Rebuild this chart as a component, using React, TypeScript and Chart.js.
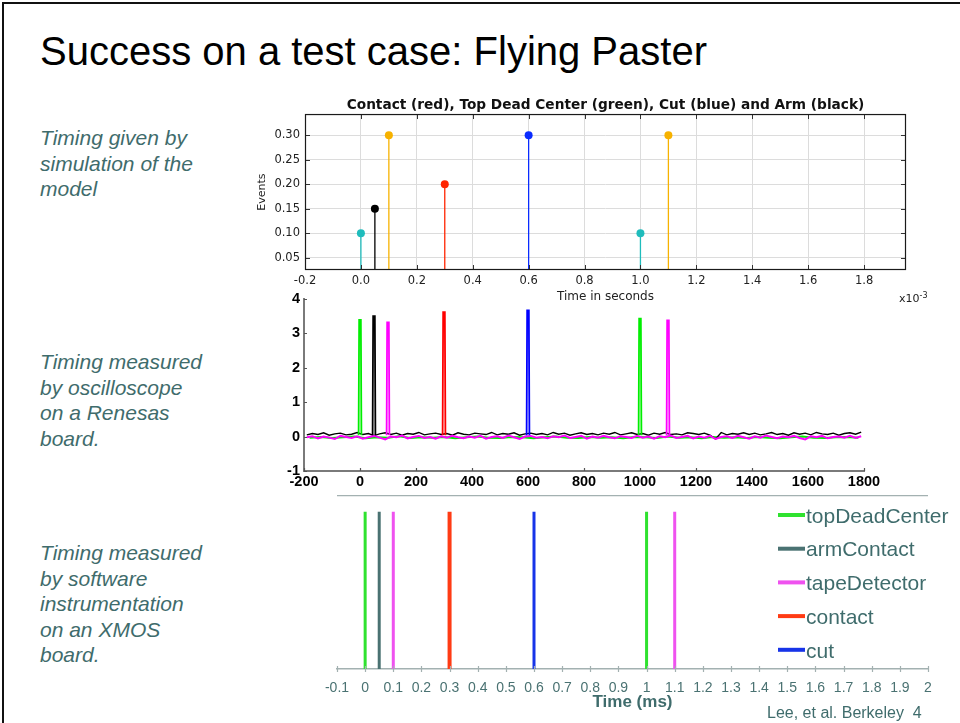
import React, { useEffect, useRef } from "react";
import { Chart, registerables } from "chart.js";
Chart.register(...registerables);

const TEAL = "#3f6c6c";
const SANS = "'Liberation Sans', Arial, sans-serif";
const DEJAVU = "'DejaVu Sans', sans-serif";

// ---------------- Top chart: simulation (time in units of 1e-3 s) ----------------
const SIM_TIMES = [0.0, 0.05, 0.1, 0.3, 0.6, 1.0, 1.1];
const SIM_EVENTS = [0.10, 0.15, 0.30, 0.20, 0.30, 0.10, 0.30];
const SIM_COLORS = ["#1fbcbc", "#000000", "#f7b200", "#ff2400", "#0a2cff", "#1fbcbc", "#f7b200"];
const SIM_X_TICKS = [-0.2, 0.0, 0.2, 0.4, 0.6, 0.8, 1.0, 1.2, 1.4, 1.6, 1.8];
const SIM_Y_TICKS = [0.05, 0.10, 0.15, 0.20, 0.25, 0.30];
const SIM_X_RANGE = [-0.2, 1.95];
const SIM_Y_RANGE = [0.025, 0.343];
const SIM_TITLE = "Contact (red), Top Dead Center (green), Cut (blue) and Arm (black)";

// ---------------- Middle chart: oscilloscope (time in µs) ----------------
const SCOPE_SPIKE_TIMES = [0, 50, 100, 300, 600, 1000, 1100];
const SCOPE_SPIKE_PEAKS = [3.39, 3.50, 3.32, 3.62, 3.67, 3.43, 3.38];
const SCOPE_SPIKE_COLORS = ["#00ee00", "#000000", "#ff00ff", "#ff0000", "#0000ff", "#00ee00", "#ff00ff"];
const SCOPE_SPIKE_BASE = 0.04;
const SCOPE_X_TICKS = [-200, 0, 200, 400, 600, 800, 1000, 1200, 1400, 1600, 1800];
const SCOPE_Y_TICKS = [-1, 0, 1, 2, 3, 4];
const SCOPE_NOISE_T = Array.from({ length: 100 }, (_, i) => -190 + 20 * i);
const SCOPE_GREEN_T = Array.from({ length: 50 }, (_, i) => -180 + 40 * i);
const SCOPE_BLACK_NOISE = [
  0.05, 0.09, 0.06, 0.11, 0.04, 0.08, 0.10, 0.05, 0.07, 0.12,
  0.06, 0.09, 0.03, 0.08, 0.11, 0.06, 0.10, 0.04, 0.09, 0.07,
  0.12, 0.05, 0.08, 0.10, 0.06, 0.09, 0.04, 0.11, 0.07, 0.05,
  0.10, 0.08, 0.06, 0.12, 0.05, 0.09, 0.07, 0.11, 0.04, 0.08,
  0.10, 0.06, 0.09, 0.05, 0.12, 0.07, 0.10, 0.04, 0.08, 0.11,
  0.06, 0.09, 0.05, 0.10, 0.07, 0.12, 0.05, 0.08, 0.11, 0.06,
  0.09, 0.04, 0.10, 0.07, 0.12, 0.06, 0.08, 0.05, 0.11, 0.09,
  0.06, 0.10, 0.04, -0.07, 0.12, 0.05, 0.09, 0.07, 0.11, 0.06,
  0.10, 0.05, 0.08, 0.12, 0.06, 0.09, 0.04, 0.11, 0.07, 0.10,
  0.05, 0.12, 0.08, 0.06, 0.10, 0.04, 0.09, 0.11, 0.07, 0.13,
];
const SCOPE_MAGENTA_NOISE = [
  -0.02, 0.01, -0.05, 0.00, -0.03, -0.07, 0.02, -0.01, -0.04, 0.01,
  -0.06, -0.02, 0.02, -0.03, -0.08, 0.00, -0.02, 0.03, -0.05, -0.01,
  0.02, -0.04, -0.01, -0.06, 0.01, -0.03, 0.02, -0.02, -0.05, 0.00,
  -0.03, 0.02, -0.06, -0.01, 0.01, -0.04, 0.03, -0.02, -0.07, 0.00,
  0.02, -0.03, -0.01, -0.05, 0.01, -0.02, 0.03, -0.04, -0.01, 0.02,
  -0.06, 0.00, -0.03, 0.02, -0.02, -0.05, 0.01, -0.01, -0.04, 0.02,
  -0.03, 0.00, -0.06, 0.01, -0.02, 0.03, -0.04, -0.01, 0.02, -0.05,
  0.00, -0.03, 0.02, -0.07, -0.01, 0.01, -0.04, 0.02, -0.02, -0.06,
  0.01, -0.03, 0.03, -0.01, -0.05, 0.00, -0.02, 0.02, -0.04, -0.08,
  0.01, -0.02, 0.02, -0.05, -0.01, 0.00, -0.03, 0.02, -0.04, 0.01,
];
const SCOPE_GREEN_NOISE = [
  -0.03, -0.01, -0.04, -0.02, 0.00, -0.05, -0.02, -0.03, 0.01, -0.04,
  -0.02, -0.03, -0.01, -0.05, -0.02, 0.00, -0.03, -0.04, -0.01, -0.02,
  -0.05, -0.02, 0.00, -0.03, -0.04, -0.01, -0.03, -0.02, -0.05, -0.01,
  -0.02, -0.04, 0.00, -0.03, -0.02, -0.05, -0.01, -0.03, -0.02, -0.04,
  -0.01, -0.03, -0.05, -0.02, 0.00, -0.03, -0.04, -0.02, -0.01, -0.03,
];

// ---------------- Bottom chart: software instrumentation (time in ms) ----------------
const SW_EVENTS = ["topDeadCenter", "armContact", "tapeDetector", "contact", "cut"];
const SW_TIMES = [[0, 1.0], [0.05], [0.1, 1.1], [0.3], [0.6]];
const SW_COLORS = ["#2fe22f", "#4a7272", "#ef52ef", "#ff3b14", "#1734e8"];
const SW_WIDTHS = [3, 3, 3, 4, 3];
const SW_X_TICKS = [-0.1, 0, 0.1, 0.2, 0.3, 0.4, 0.5, 0.6, 0.7, 0.8, 0.9, 1, 1.1, 1.2, 1.3, 1.4, 1.5, 1.6, 1.7, 1.8, 1.9, 2];

// ---------------- plugins ----------------
const innerTicks = {
  id: "innerTicks",
  afterDatasetsDraw(chart: any, _args: any, opts: any) {
    const { ctx, chartArea: a } = chart;
    ctx.save();
    for (const m of opts.marks || []) {
      const scale = chart.scales[m.scale];
      ctx.strokeStyle = m.color;
      ctx.lineWidth = m.width;
      ctx.beginPath();
      for (const t of scale.ticks) {
        const p = Math.round(scale.getPixelForValue(t.value)) + 0.5;
        const out = m.out || 0;
        if (m.edge === "bottom") { ctx.moveTo(p, a.bottom + out); ctx.lineTo(p, a.bottom - m.len); }
        if (m.edge === "top") { ctx.moveTo(p, a.top); ctx.lineTo(p, a.top + m.len); }
        if (m.edge === "left") { ctx.moveTo(a.left, p); ctx.lineTo(a.left + m.len, p); }
        if (m.edge === "right") { ctx.moveTo(a.right, p); ctx.lineTo(a.right - m.len, p); }
      }
      ctx.stroke();
    }
    if (opts.frame) {
      ctx.strokeStyle = opts.frame.color;
      ctx.lineWidth = opts.frame.width;
      ctx.strokeRect(a.left + 0.5, a.top + 0.5, a.right - a.left - 1, a.bottom - a.top - 1);
    }
    ctx.restore();
  },
};

const lineLegend = {
  id: "lineLegend",
  afterDraw(chart: any, _args: any, o: any) {
    const ctx = chart.ctx;
    ctx.save();
    ctx.font = `${o.size}px ${o.family}`;
    ctx.textBaseline = "middle";
    ctx.textAlign = "left";
    chart.data.datasets.forEach((ds: any, i: number) => {
      const y = o.y + i * o.dy;
      ctx.strokeStyle = ds.borderColor;
      ctx.lineWidth = o.lineWidth;
      ctx.beginPath();
      ctx.moveTo(o.x, y);
      ctx.lineTo(o.x + o.len, y);
      ctx.stroke();
      ctx.fillStyle = o.color;
      ctx.fillText(ds.label, o.x + o.len + o.gap, y + o.textDy);
    });
    ctx.restore();
  },
};

const fixTicks = (values: number[]) => (scale: any) => {
  scale.ticks = values.map((v) => ({ value: v }));
};

// ---------------- configs ----------------
function simConfig(): any {
  return {
    type: "line",
    data: {
      datasets: SIM_TIMES.map((t, i) => ({
        data: [{ x: t, y: 0 }, { x: t, y: SIM_EVENTS[i] }],
        borderColor: SIM_COLORS[i],
        backgroundColor: SIM_COLORS[i],
        borderWidth: 1.3,
        pointRadius: (c: any) => (c.dataIndex === 1 ? 4 : 0),
        pointBorderWidth: 0,
        pointHoverRadius: 0,
      })),
    },
    options: {
      animation: false,
      responsive: false,
      events: [],
      layout: { padding: { left: 0, top: 0, right: 44, bottom: 0 } },
      plugins: {
        legend: { display: false },
        tooltip: { enabled: false },
        title: {
          display: true,
          text: SIM_TITLE,
          fullSize: false,
          color: "#111",
          font: { family: DEJAVU, size: 13.7, weight: "bold" },
          padding: { top: 7, bottom: 0.6 },
        },
        innerTicks: {
          marks: [
            { scale: "x", edge: "bottom", len: 5, color: "#333", width: 1 },
            { scale: "x", edge: "top", len: 5, color: "#333", width: 1 },
            { scale: "y", edge: "left", len: 5, color: "#333", width: 1 },
            { scale: "y", edge: "right", len: 5, color: "#333", width: 1 },
          ],
          frame: { color: "#1a1a1a", width: 1.2 },
        },
      },
      scales: {
        x: {
          type: "linear",
          min: SIM_X_RANGE[0],
          max: SIM_X_RANGE[1],
          afterBuildTicks: fixTicks(SIM_X_TICKS),
          afterFit: (s: any) => { s.height = 40; },
          grid: { color: "#dcdcdc", lineWidth: 1, drawTicks: false },
          border: { display: false },
          ticks: {
            autoSkip: false, maxRotation: 0, minRotation: 0, padding: 4,
            color: "#222", font: { family: DEJAVU, size: 11.5 },
            callback: (v: any) => Number(v).toFixed(1),
          },
          title: {
            display: true, text: "Time in seconds", color: "#222",
            font: { family: DEJAVU, size: 12 }, padding: { top: 0, bottom: 5.8 },
          },
        },
        y: {
          type: "linear",
          min: SIM_Y_RANGE[0],
          max: SIM_Y_RANGE[1],
          afterBuildTicks: fixTicks(SIM_Y_TICKS),
          afterFit: (s: any) => { s.width = 55; },
          grid: { color: "#dcdcdc", lineWidth: 1, drawTicks: false },
          border: { display: false },
          ticks: {
            autoSkip: false, padding: 5, color: "#222",
            font: { family: DEJAVU, size: 11.5 },
            callback: (v: any) => Number(v).toFixed(2),
          },
          title: {
            display: true, text: "Events", color: "#222",
            font: { family: DEJAVU, size: 11 }, padding: { top: 5.4, bottom: 0 },
          },
        },
      },
    },
    plugins: [innerTicks],
  };
}

function pulse(t: number, peak: number) {
  return [
    { x: t - 5, y: SCOPE_SPIKE_BASE },
    { x: t - 3, y: peak },
    { x: t + 3, y: peak },
    { x: t + 5, y: SCOPE_SPIKE_BASE },
  ];
}

function scopeConfig(): any {
  const spikes = SCOPE_SPIKE_TIMES.map((t, i) => ({
    data: pulse(t, SCOPE_SPIKE_PEAKS[i]),
    borderColor: SCOPE_SPIKE_COLORS[i],
    borderWidth: 1.8,
    pointRadius: 0,
  }));
  const trace = (ts: number[], ys: number[], color: string, w: number) => ({
    data: ts.map((t, i) => ({ x: t, y: ys[i] })),
    borderColor: color,
    borderWidth: w,
    pointRadius: 0,
  });
  return {
    type: "line",
    data: {
      datasets: [
        ...spikes,
        trace(SCOPE_NOISE_T, SCOPE_MAGENTA_NOISE, "#ff00ff", 2),
        trace(SCOPE_NOISE_T, SCOPE_BLACK_NOISE, "#000000", 1.4),
        trace(SCOPE_GREEN_T, SCOPE_GREEN_NOISE, "#00ee00", 2),
      ],
    },
    options: {
      animation: false,
      responsive: false,
      events: [],
      layout: { padding: { left: 0, top: 14, right: 36, bottom: 0 } },
      plugins: {
        legend: { display: false },
        tooltip: { enabled: false },
        innerTicks: {
          marks: [
            { scale: "x", edge: "bottom", len: 3, color: "#555", width: 1.2 },
            { scale: "y", edge: "left", len: 3, color: "#555", width: 1.2 },
          ],
        },
      },
      scales: {
        x: {
          type: "linear",
          min: -200,
          max: 1800,
          afterBuildTicks: fixTicks(SCOPE_X_TICKS),
          afterFit: (s: any) => { s.height = 29; },
          grid: { display: true, drawOnChartArea: false, drawTicks: false },
          border: { display: true, color: "#7a7a7a", width: 2 },
          ticks: {
            autoSkip: false, maxRotation: 0, minRotation: 0, padding: 2,
            color: "#000", font: { family: SANS, size: 14.5, weight: "bold" },
            callback: (v: any) => String(v),
          },
        },
        y: {
          type: "linear",
          min: -1,
          max: 4,
          afterBuildTicks: fixTicks(SCOPE_Y_TICKS),
          afterFit: (s: any) => { s.width = 54; },
          grid: { display: true, drawOnChartArea: false, drawTicks: false },
          border: { display: true, color: "#7a7a7a", width: 2 },
          ticks: {
            autoSkip: false, padding: 4, color: "#000",
            font: { family: SANS, size: 14.5, weight: "bold" },
            callback: (v: any) => String(v),
          },
        },
      },
    },
    plugins: [innerTicks],
  };
}

function swConfig(): any {
  return {
    type: "line",
    data: {
      datasets: SW_EVENTS.map((name, i) => ({
        label: name,
        data: SW_TIMES[i].flatMap((t) => [{ x: t, y: 0 }, { x: t, y: 1 }, { x: t, y: null }]),
        borderColor: SW_COLORS[i],
        borderWidth: SW_WIDTHS[i],
        pointRadius: 0,
        spanGaps: false,
      })),
    },
    options: {
      animation: false,
      responsive: false,
      events: [],
      layout: { padding: { left: 0, top: 6, right: 32, bottom: 0 } },
      plugins: {
        legend: { display: false },
        tooltip: { enabled: false },
        innerTicks: {
          marks: [{ scale: "x", edge: "bottom", len: 3, out: 3, color: "#a3b1b1", width: 1.2 }],
        },
        lineLegend: {
          x: 478, y: 25, dy: 33.7, len: 27, gap: 1, textDy: 2,
          lineWidth: 4, size: 21, family: SANS, color: TEAL,
        },
      },
      scales: {
        x: {
          type: "linear",
          min: -0.1,
          max: 2,
          afterBuildTicks: fixTicks(SW_X_TICKS),
          afterFit: (s: any) => { s.height = 54; },
          grid: { display: true, drawOnChartArea: false, drawTicks: false },
          border: { display: true, color: "#a3b1b1", width: 1.5 },
          ticks: {
            autoSkip: false, maxRotation: 0, minRotation: 0, padding: 10.6,
            color: "#4a7272", font: { family: SANS, size: 14 },
            callback: (v: any) => String(Math.round(Number(v) * 10) / 10),
          },
          title: {
            display: true, text: "Time (ms)", color: TEAL,
            font: { family: SANS, size: 17, weight: "bold" },
            padding: { top: 0, bottom: 10 },
          },
        },
        y: {
          type: "linear",
          min: 0,
          max: 1.1,
          afterBuildTicks: fixTicks([1.1]),
          afterFit: (s: any) => { s.width = 37; },
          grid: { display: true, color: "#a3b1b1", lineWidth: 1.2, drawTicks: false },
          border: { display: false },
          ticks: { display: false },
        },
      },
    },
    plugins: [innerTicks, lineLegend],
  };
}

// ---------------- components ----------------
function ChartBox(props: { make: () => any; left: number; top: number; width: number; height: number }) {
  const ref = useRef<HTMLCanvasElement | null>(null);
  useEffect(() => {
    if (!ref.current) return;
    const chart = new Chart(ref.current, props.make());
    return () => chart.destroy();
  }, []);
  return (
    <canvas
      ref={ref}
      width={props.width}
      height={props.height}
      style={{ position: "absolute", left: props.left, top: props.top, width: props.width, height: props.height }}
    />
  );
}

const sideText: React.CSSProperties = {
  position: "absolute",
  left: 40,
  fontFamily: SANS,
  fontStyle: "italic",
  fontSize: 21,
  lineHeight: "25.5px",
  color: TEAL,
  margin: 0,
};

export default function App() {
  return (
    <div
      style={{
        position: "absolute", left: 0, top: 0, width: 960, height: 723,
        overflow: "hidden", background: "#fff", fontFamily: SANS,
      }}
    >
      <div
        style={{
          position: "absolute", left: 2, top: 2, width: 960, height: 723,
          borderTop: "2px solid #111", borderLeft: "2px solid #111",
        }}
      />
      <div
        style={{
          position: "absolute", left: 40, top: 31, fontSize: 40, lineHeight: "40px",
          color: "#000", whiteSpace: "nowrap",
        }}
      >
        Success on a test case: Flying Paster
      </div>

      <div style={{ ...sideText, top: 125 }}>
        Timing given by<br />simulation of the<br />model
      </div>
      <div style={{ ...sideText, top: 349 }}>
        Timing measured<br />by oscilloscope<br />on a Renesas<br />board.
      </div>
      <div style={{ ...sideText, top: 540 }}>
        Timing measured<br />by software<br />instrumentation<br />on an XMOS<br />board.
      </div>

      <ChartBox make={scopeConfig} left={250} top={285} width={650} height={215} />
      <ChartBox make={simConfig} left={250} top={90} width={700} height={220} />
      <ChartBox make={swConfig} left={300} top={490} width={660} height={233} />

      <div
        style={{
          position: "absolute", left: 899, top: 290, fontFamily: DEJAVU, fontSize: 11,
          color: "#222", lineHeight: "12px", whiteSpace: "nowrap",
        }}
      >
        x10<sup style={{ fontSize: 8, verticalAlign: "4px" }}>-3</sup>
      </div>

      <div
        style={{
          position: "absolute", left: 767, top: 705, fontSize: 16, lineHeight: "16px",
          color: TEAL, whiteSpace: "pre",
        }}
      >
        {"Lee, et al. Berkeley  4"}
      </div>
    </div>
  );
}
